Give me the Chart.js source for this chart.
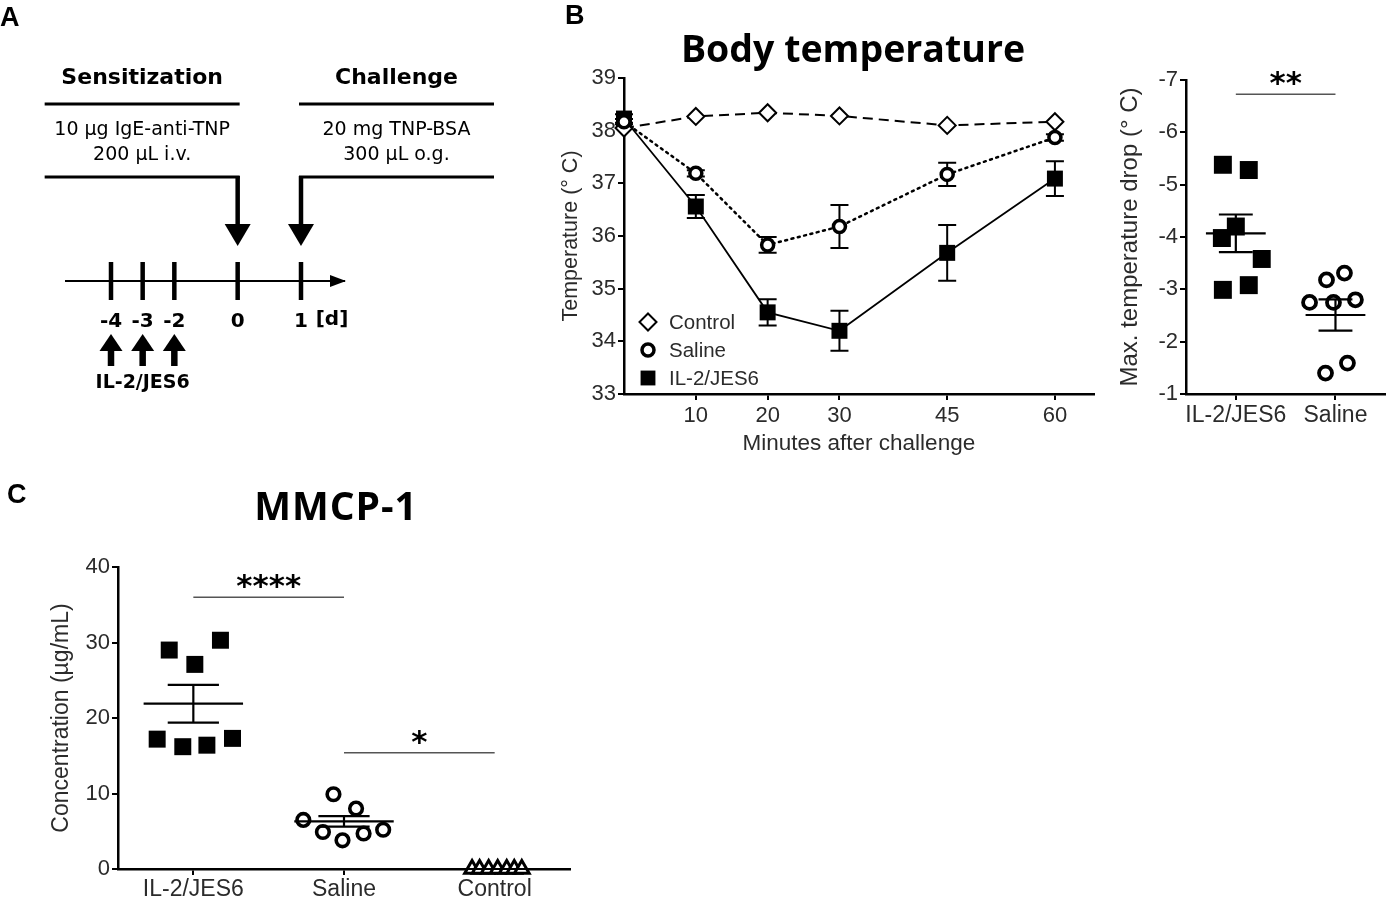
<!DOCTYPE html>
<html>
<head>
<meta charset="utf-8">
<script src="https://cdn.jsdelivr.net/npm/chart.js@4.4.1/dist/chart.umd.min.js"></script>
<style>
  html, body { margin: 0; padding: 0; background: #fff; width: 1398px; height: 905px; overflow: hidden; }
  canvas { position: absolute; }
  .letter { position: absolute; font: bold 27px "Liberation Sans", Arial, sans-serif; line-height: 1; color: #000; }
  .title { position: absolute; font: 700 37.5px "Open Sans", sans-serif; line-height: 1; color: #000; text-align: center; white-space: nowrap; }
</style>
</head>
<body>
<canvas id="cProtocol" width="520" height="420" style="left:0;top:0"></canvas>
<canvas id="cTemp" width="565" height="470" style="left:540px;top:0"></canvas>
<canvas id="cDrop" width="293" height="460" style="left:1105px;top:0"></canvas>
<canvas id="cMmcp" width="600" height="435" style="left:0;top:470px"></canvas>

<div class="letter" style="left:0;top:4px">A</div>
<div class="letter" style="left:565px;top:2px">B</div>
<div class="letter" style="left:7px;top:481px">C</div>
<div class="title" style="left:653px;top:29px;width:400px">Body temperature</div>
<div class="title" style="left:186px;top:485px;width:300px;font-size:39px;letter-spacing:1px">MMCP-1</div>

<script>
///////////////////////////////////////////////////////////////
// data
///////////////////////////////////////////////////////////////

// A: protocol timeline (days, and their slot on the schematic axis)
const dayLabels = ['-4', '-3', '-2', '0', '1'];
const daySlots = [0, 1, 2, 4, 6];
const treatSlots = [0, 1, 2];

// B: body temperature after challenge (mean, SEM)
const minutes = [0, 10, 20, 30, 45, 60];
const controlTemp = [38.05, 38.27, 38.34, 38.28, 38.1, 38.17];
const salineTemp = [38.17, 37.19, 35.83, 36.18, 37.17, 37.87];
const salineSem = [0.05, 0.06, 0.15, 0.41, 0.22, 0.06];
const il2Temp = [38.23, 36.56, 34.55, 34.2, 35.68, 37.09];
const il2Sem = [0.08, 0.22, 0.25, 0.38, 0.53, 0.33];

// B: max. temperature drop per mouse
const dropGroups = ['IL-2/JES6', 'Saline'];
const il2Drop = [-5.38, -5.28, -4.2, -3.98, -3.58, -2.99, -3.08];
const il2DropJit = [-0.13, 0.13, 0, -0.14, 0.26, -0.13, 0.13];
const salineDrop = [-3.18, -3.31, -2.75, -2.75, -2.8, -1.4, -1.59];
const salineDropJit = [-0.09, 0.09, -0.26, -0.02, 0.2, -0.1, 0.12];
const dropMean = [-4.07, -2.51];
const dropSem = [0.36, 0.3];
const dropSig = [{ a: 1, b: 2, at: -6.73, mark: '**' }];

// C: MMCP-1 concentration per mouse
const mmcpGroups = ['IL-2/JES6', 'Saline', 'Control'];
const il2Mmcp = [29.0, 27.1, 30.3, 17.2, 16.2, 16.4, 17.3];
const il2MmcpJit = [-0.16, 0.01, 0.18, -0.24, -0.07, 0.09, 0.26];
const salineMmcp = [9.9, 8.0, 6.5, 4.9, 3.8, 4.7, 5.2];
const salineMmcpJit = [-0.07, 0.08, -0.27, -0.14, -0.01, 0.13, 0.26];
const controlMmcp = [0, 0, 0, 0, 0, 0, 0];
const controlMmcpJit = [-0.15, -0.1, -0.04, 0.02, 0.08, 0.13, 0.18];
const mmcpMean = [21.9, 6.3, 0];
const mmcpSem = [2.5, 0.7, 0];
const mmcpSig = [
  { a: 1, b: 2, at: 36.0, mark: '****' },
  { a: 2, b: 3, at: 15.4, mark: '*' },
];

///////////////////////////////////////////////////////////////
// helpers
///////////////////////////////////////////////////////////////

const INK = '#2b2b2b';
const SANS = '"Liberation Sans", Arial, sans-serif';
const SKETCH = '"DejaVu Sans", sans-serif';
const f = size => ({ family: SANS, size });

Chart.defaults.animation = false;
Chart.defaults.font.family = SANS;

const xy = (xs, ys) => xs.map((x, i) => ({ x, y: ys[i] }));
const jittered = (group, jit, ys) => ys.map((y, i) => ({ x: group + jit[i], y }));

function axis(o) {
  return {
    type: 'linear',
    min: o.min,
    max: o.max,
    reverse: !!o.reverse,
    border: { display: true, color: '#000', width: 2.5 },
    grid: { drawOnChartArea: false, drawTicks: true, tickLength: 6, color: '#000', lineWidth: 2 },
    ticks: Object.assign({ color: INK, font: f(22), padding: 2 }, o.ticks || {}),
    title: o.title
      ? { display: true, text: o.title, color: INK, font: f(o.titleSize), padding: o.titlePad }
      : { display: false },
    afterBuildTicks: o.afterBuildTicks,
    afterFit: o.afterFit,
  };
}

function drawMarker(ctx, ds, x, y) {
  const r = ds.pointRadius;
  ctx.save();
  ctx.lineWidth = ds.pointBorderWidth;
  ctx.strokeStyle = ds.pointBorderColor;
  ctx.fillStyle = ds.pointBackgroundColor;
  ctx.beginPath();
  if (ds.pointStyle === 'circle') {
    ctx.arc(x, y, r, 0, Math.PI * 2);
  } else if (ds.pointStyle === 'rect') {
    const s = r * Math.SQRT1_2;
    ctx.rect(x - s, y - s, 2 * s, 2 * s);
  } else if (ds.pointStyle === 'rectRot') {
    ctx.moveTo(x, y - r); ctx.lineTo(x + r, y); ctx.lineTo(x, y + r); ctx.lineTo(x - r, y);
    ctx.closePath();
  }
  ctx.fill();
  if (ds.pointBorderWidth) ctx.stroke();
  ctx.restore();
}

///////////////////////////////////////////////////////////////
// plugins
///////////////////////////////////////////////////////////////

// vertical SEM bars for the time course
const semBars = {
  id: 'semBars',
  beforeDatasetsDraw(chart) {
    const { ctx, scales: { x, y } } = chart;
    ctx.save();
    ctx.strokeStyle = '#000';
    ctx.lineWidth = 2;
    chart.data.datasets.forEach(ds => {
      if (!ds.sem) return;
      ds.data.forEach((p, i) => {
        const e = ds.sem[i];
        if (!e) return;
        const px = x.getPixelForValue(p.x);
        const top = y.getPixelForValue(p.y + e);
        const bot = y.getPixelForValue(p.y - e);
        ctx.beginPath();
        ctx.moveTo(px, top); ctx.lineTo(px, bot);
        ctx.moveTo(px - 9, top); ctx.lineTo(px + 9, top);
        ctx.moveTo(px - 9, bot); ctx.lineTo(px + 9, bot);
        ctx.stroke();
      });
    });
    ctx.restore();
  }
};

// legend inside the plot, bottom left
const tempLegend = {
  id: 'tempLegend',
  afterDatasetsDraw(chart) {
    const { ctx, chartArea: a } = chart;
    const order = ['Control', 'Saline', 'IL-2/JES6'];
    ctx.save();
    ctx.font = '20.5px ' + SANS;
    ctx.fillStyle = INK;
    ctx.textBaseline = 'middle';
    order.forEach((name, i) => {
      const ds = chart.data.datasets.find(d => d.label === name);
      const cx = a.left + 24;
      const cy = a.bottom - 16 - (order.length - 1 - i) * 28;
      drawMarker(ctx, Object.assign({}, ds, name === 'IL-2/JES6' ? { pointRadius: 10.5 } : {}), cx, cy);
      ctx.fillText(name, cx + 21, cy + 1);
    });
    ctx.restore();
  }
};

// mean +/- SEM lines for the dot plots
const meanSem = {
  id: 'meanSem',
  afterDatasetsDraw(chart, args, opts) {
    const { ctx, scales: { x, y } } = chart;
    const line = (x0, x1, yy) => { ctx.beginPath(); ctx.moveTo(x0, yy); ctx.lineTo(x1, yy); ctx.stroke(); };
    ctx.save();
    ctx.strokeStyle = '#000';
    ctx.lineWidth = 2.2;
    opts.means.forEach((m, i) => {
      const c = i + 1;
      const s = opts.sems[i];
      const px = off => x.getPixelForValue(c + off);
      line(px(-opts.half), px(opts.half), y.getPixelForValue(m));
      if (s > 0) {
        const yt = y.getPixelForValue(m + s);
        const yb = y.getPixelForValue(m - s);
        line(px(-opts.cap), px(opts.cap), yt);
        line(px(-opts.cap), px(opts.cap), yb);
        ctx.beginPath(); ctx.moveTo(px(0), yt); ctx.lineTo(px(0), yb); ctx.stroke();
      }
    });
    ctx.restore();
  }
};

// significance bars with stars
const sigBars = {
  id: 'sigBars',
  afterDatasetsDraw(chart, args, opts) {
    const { ctx, scales: { x, y } } = chart;
    ctx.save();
    opts.items.forEach(it => {
      const yy = y.getPixelForValue(it.at);
      ctx.strokeStyle = '#555';
      ctx.lineWidth = 1.5;
      ctx.beginPath();
      ctx.moveTo(x.getPixelForValue(it.a), yy);
      ctx.lineTo(x.getPixelForValue(it.b), yy);
      ctx.stroke();
      ctx.fillStyle = '#000';
      ctx.font = 'bold 31px ' + SKETCH;
      ctx.textAlign = 'center';
      ctx.textBaseline = 'alphabetic';
      ctx.fillText(it.mark, x.getPixelForValue((it.a + it.b) / 2), yy - 1);
    });
    ctx.restore();
  }
};

// protocol schematic around the timeline axis
const protocolSketch = {
  id: 'protocolSketch',
  afterDraw(chart) {
    const { ctx, scales: { x }, chartArea: area } = chart;
    const lineY = area.bottom;
    const d0 = x.getPixelForValue(daySlots[3]);
    const d1 = x.getPixelForValue(daySlots[4]);
    const L = { x0: d0 - 193, x1: d0 + 2 };
    const R = { x0: d1 - 2, x1: d1 + 193 };
    const mid = b => (b.x0 + b.x1) / 2;
    const seg = (x0, y0, x1, y1, w) => {
      ctx.lineWidth = w; ctx.beginPath(); ctx.moveTo(x0, y0); ctx.lineTo(x1, y1); ctx.stroke();
    };
    const tri = (pts) => {
      ctx.beginPath(); ctx.moveTo(pts[0], pts[1]); ctx.lineTo(pts[2], pts[3]); ctx.lineTo(pts[4], pts[5]);
      ctx.closePath(); ctx.fill();
    };

    ctx.save();
    ctx.fillStyle = '#000';
    ctx.strokeStyle = '#000';
    ctx.textAlign = 'center';
    ctx.textBaseline = 'middle';

    // headers
    ctx.font = 'bold 22px ' + SKETCH;
    ctx.fillText('Sensitization', mid(L), 78);
    ctx.fillText('Challenge', mid(R), 78);
    seg(L.x0, 104, L.x1, 104, 3);
    seg(R.x0, 104, R.x1, 104, 3);

    ctx.font = '19px ' + SKETCH;
    ctx.fillText('10 µg IgE-anti-TNP', mid(L), 130);
    ctx.fillText('200 µL i.v.', mid(L), 155);
    ctx.fillText('20 mg TNP-BSA', mid(R), 130);
    ctx.fillText('300 µL o.g.', mid(R), 155);

    // brackets down to day 0 and day 1
    seg(L.x0, 177, d0 + 2, 177, 3);
    seg(d0, 176, d0, 226, 4.5);
    tri([d0 - 13, 224, d0 + 13, 224, d0, 246]);
    seg(R.x1, 177, d1 - 2, 177, 3);
    seg(d1, 176, d1, 226, 4.5);
    tri([d1 - 13, 224, d1 + 13, 224, d1, 246]);

    // timeline arrow head and day ticks
    tri([area.right + 2, lineY, area.right - 14, lineY - 6, area.right - 14, lineY + 6]);
    daySlots.forEach(s => {
      const px = x.getPixelForValue(s);
      seg(px, lineY - 19, px, lineY + 19, 4.5);
    });
    ctx.font = 'bold 20px ' + SKETCH;
    ctx.fillText('[d]', d1 + 31, 320);

    // IL-2/JES6 injections
    treatSlots.forEach(s => {
      const px = x.getPixelForValue(s);
      tri([px - 11.5, 351, px + 11.5, 351, px, 334]);
      seg(px, 349, px, 366, 6.5);
    });
    ctx.font = 'bold 19px ' + SKETCH;
    ctx.fillText('IL-2/JES6', x.getPixelForValue(treatSlots[1]), 383);
    ctx.restore();
  }
};

///////////////////////////////////////////////////////////////
// A: protocol
///////////////////////////////////////////////////////////////

new Chart(document.getElementById('cProtocol'), {
  type: 'scatter',
  data: { datasets: [] },
  options: {
    responsive: false,
    layout: { padding: { left: 66, right: 176, top: 0, bottom: 0 } },
    plugins: { legend: { display: false }, tooltip: { enabled: false } },
    scales: {
      x: {
        type: 'linear',
        min: -1.421,
        max: 7.358,
        border: { display: true, color: '#000', width: 2 },
        grid: { display: false },
        ticks: {
          color: '#000',
          font: { family: SKETCH, size: 20, weight: 'bold' },
          padding: 21,
          callback: (v, i) => dayLabels[i],
        },
        afterBuildTicks: s => { s.ticks = daySlots.map(v => ({ value: v })); },
        afterFit: s => { s.height = 139; },
      },
      y: { display: false, min: 0, max: 1 },
    },
  },
  plugins: [protocolSketch],
});

///////////////////////////////////////////////////////////////
// B: body temperature
///////////////////////////////////////////////////////////////

new Chart(document.getElementById('cTemp'), {
  type: 'line',
  data: {
    datasets: [
      {
        label: 'Saline',
        data: xy(minutes, salineTemp),
        sem: salineSem,
        borderColor: '#000',
        borderWidth: 2.5,
        borderDash: [2, 4.5],
        borderCapStyle: 'round',
        pointStyle: 'circle',
        pointRadius: 6,
        pointBorderWidth: 3.5,
        pointBorderColor: '#000',
        pointBackgroundColor: '#fff',
      },
      {
        label: 'IL-2/JES6',
        data: xy(minutes, il2Temp),
        sem: il2Sem,
        borderColor: '#000',
        borderWidth: 1.8,
        pointStyle: 'rect',
        pointRadius: 11.3,
        pointBorderWidth: 0,
        pointBorderColor: '#000',
        pointBackgroundColor: '#000',
      },
      {
        label: 'Control',
        data: xy(minutes, controlTemp),
        borderColor: '#000',
        borderWidth: 2,
        borderDash: [10, 6],
        pointStyle: 'rectRot',
        pointRadius: 8.5,
        pointBorderWidth: 2,
        pointBorderColor: '#000',
        pointBackgroundColor: '#fff',
      },
    ],
  },
  options: {
    responsive: false,
    clip: false,
    elements: { line: { tension: 0 } },
    layout: { padding: { left: 14, right: 7, top: 78, bottom: 0 } },
    plugins: { legend: { display: false }, tooltip: { enabled: false } },
    scales: {
      x: axis({
        min: 0, max: 65.4,
        ticks: { padding: 3 },
        title: 'Minutes after challenge',
        titleSize: 22.5,
        titlePad: { top: 0, bottom: 13 },
        afterBuildTicks: s => { s.ticks = minutes.filter(m => m > 0).map(v => ({ value: v })); },
        afterFit: s => { s.height = 76; },
      }),
      y: axis({
        min: 33, max: 39,
        ticks: { stepSize: 1 },
        title: 'Temperature (° C)',
        titleSize: 21.5,
        titlePad: { top: 4, bottom: 0 },
        afterFit: s => { s.width = 70; },
      }),
    },
  },
  plugins: [semBars, tempLegend],
});

///////////////////////////////////////////////////////////////
// B: max. temperature drop
///////////////////////////////////////////////////////////////

new Chart(document.getElementById('cDrop'), {
  type: 'scatter',
  data: {
    datasets: [
      {
        label: 'IL-2/JES6',
        data: jittered(1, il2DropJit, il2Drop),
        pointStyle: 'rect',
        pointRadius: 12.7,
        pointBorderWidth: 0,
        pointBackgroundColor: '#000',
      },
      {
        label: 'Saline',
        data: jittered(2, salineDropJit, salineDrop),
        pointStyle: 'circle',
        pointRadius: 6.5,
        pointBorderWidth: 3.8,
        pointBorderColor: '#000',
        pointBackgroundColor: '#fff',
      },
    ],
  },
  options: {
    responsive: false,
    clip: false,
    layout: { padding: { left: 5, right: 3, top: 80, bottom: 0 } },
    plugins: {
      legend: { display: false },
      tooltip: { enabled: false },
      meanSem: { means: dropMean, sems: dropSem, half: 0.3, cap: 0.17 },
      sigBars: { items: dropSig },
    },
    scales: {
      x: axis({
        min: 0.5, max: 2.5,
        ticks: { padding: 2, font: f(23), callback: (v, i) => dropGroups[i] },
        afterBuildTicks: s => { s.ticks = dropGroups.map((g, i) => ({ value: i + 1 })); },
        afterFit: s => { s.height = 66; },
      }),
      y: axis({
        min: -7, max: -1, reverse: true,
        ticks: { stepSize: 1 },
        title: 'Max. temperature drop (° C)',
        titleSize: 24,
        titlePad: { top: 6, bottom: 0 },
        afterFit: s => { s.width = 76; },
      }),
    },
  },
  plugins: [meanSem, sigBars],
});

///////////////////////////////////////////////////////////////
// C: MMCP-1
///////////////////////////////////////////////////////////////

new Chart(document.getElementById('cMmcp'), {
  type: 'scatter',
  data: {
    datasets: [
      {
        label: 'IL-2/JES6',
        data: jittered(1, il2MmcpJit, il2Mmcp),
        pointStyle: 'rect',
        pointRadius: 12,
        pointBorderWidth: 0,
        pointBackgroundColor: '#000',
      },
      {
        label: 'Saline',
        data: jittered(2, salineMmcpJit, salineMmcp),
        pointStyle: 'circle',
        pointRadius: 6.3,
        pointBorderWidth: 3.6,
        pointBorderColor: '#000',
        pointBackgroundColor: '#fff',
      },
      {
        label: 'Control',
        data: jittered(3, controlMmcpJit, controlMmcp),
        pointStyle: 'triangle',
        pointRadius: 8.5,
        pointBorderWidth: 3,
        pointBorderColor: '#000',
        pointBackgroundColor: '#fff',
      },
    ],
  },
  options: {
    responsive: false,
    clip: false,
    layout: { padding: { left: 40, right: 30, top: 97, bottom: 0 } },
    plugins: {
      legend: { display: false },
      tooltip: { enabled: false },
      meanSem: { means: mmcpMean, sems: mmcpSem, half: 0.33, cap: 0.17 },
      sigBars: { items: mmcpSig },
    },
    scales: {
      x: axis({
        min: 0.5, max: 3.5,
        ticks: { padding: 1, font: f(23), callback: (v, i) => mmcpGroups[i] },
        afterBuildTicks: s => { s.ticks = mmcpGroups.map((g, i) => ({ value: i + 1 })); },
        afterFit: s => { s.height = 36; },
      }),
      y: axis({
        min: 0, max: 40,
        ticks: { stepSize: 10 },
        title: 'Concentration (µg/mL)',
        titleSize: 23,
        titlePad: { top: 8, bottom: 0 },
        afterFit: s => { s.width = 78; },
      }),
    },
  },
  plugins: [meanSem, sigBars],
});
</script>
</body>
</html>
